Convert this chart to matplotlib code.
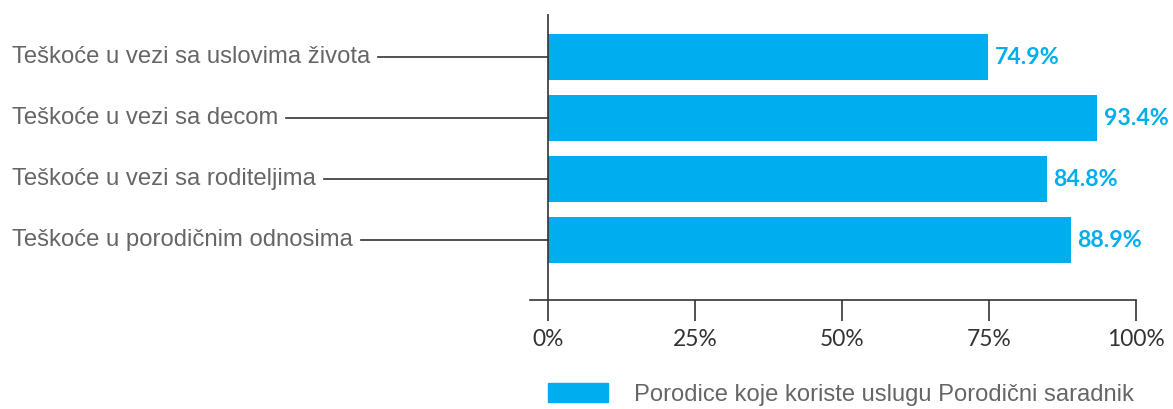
import matplotlib
matplotlib.use("Agg")
import matplotlib.pyplot as plt
from matplotlib.patches import Patch

categories = ["Teškoće u vezi sa uslovima života",
              "Teškoće u vezi sa decom",
              "Teškoće u vezi sa roditeljima",
              "Teškoće u porodičnim odnosima"]
values = [74.9, 93.4, 84.8, 88.9]
ticks = [0, 25, 50, 75, 100]
tick_labels = ["0%", "25%", "50%", "75%", "100%"]
series_name = "Porodice koje koriste uslugu Porodični saradnik"

blue = "#00aeef"
grey = "#666666"
dark = "#333333"

W, H = 1173, 409
fig = plt.figure(figsize=(W / 100, H / 100), dpi=100)
ax = fig.add_axes([530 / W, 1 - 300 / H, (1136 - 530) / W, (300 - 14) / H])

ypos = list(range(len(categories)))
ax.barh(ypos, values, height=0.75, color=blue, zorder=2)
ax.set_xlim(-3.06, 100)
ax.set_ylim(3.98, -0.705)

for sp in ["top", "right", "left"]:
    ax.spines[sp].set_visible(False)
ax.spines["bottom"].set_color(dark)
ax.spines["bottom"].set_linewidth(1.2)
ax.axvline(0, color=dark, lw=1.2, zorder=3)

ax.set_yticks([])
ax.set_xticks(ticks)
ax.set_xticklabels(tick_labels, fontfamily="Lato", fontsize=16.4, color=dark)
ax.tick_params(axis="x", length=15, width=1.2, color=dark, pad=6)

# value labels
for y, v in zip(ypos, values):
    ax.text(v + 1.1, y, f"{v}%", va="center", ha="left", fontfamily="Lato",
            fontweight="bold", fontsize=16.7, color=blue)

# category labels with leader lines to the axis
fig.canvas.draw()
renderer = fig.canvas.get_renderer()
for y, name in zip(ypos, categories):
    xd, yd = ax.transData.transform((0, y))
    t = fig.text(12 / W, yd / H, name, ha="left", va="center",
                 fontfamily="Liberation Sans", fontsize=17.2, color=grey)
    bb = t.get_window_extent(renderer)
    x0 = (bb.x1 + 8) / W
    fig.add_artist(plt.Line2D([x0, xd / W], [yd / H, yd / H],
                              color=dark, lw=1.2))

fig.legend(handles=[Patch(color=blue, label=series_name)],
           loc="upper left", bbox_to_anchor=(548 / W, 1 - 383 / H),
           frameon=False, borderpad=0, borderaxespad=0,
           handlelength=2.54, handleheight=0.85, handletextpad=1.06,
           prop={"family": "Liberation Sans", "size": 17.1}, labelcolor=grey)

fig.savefig("out.png", dpi=100)
